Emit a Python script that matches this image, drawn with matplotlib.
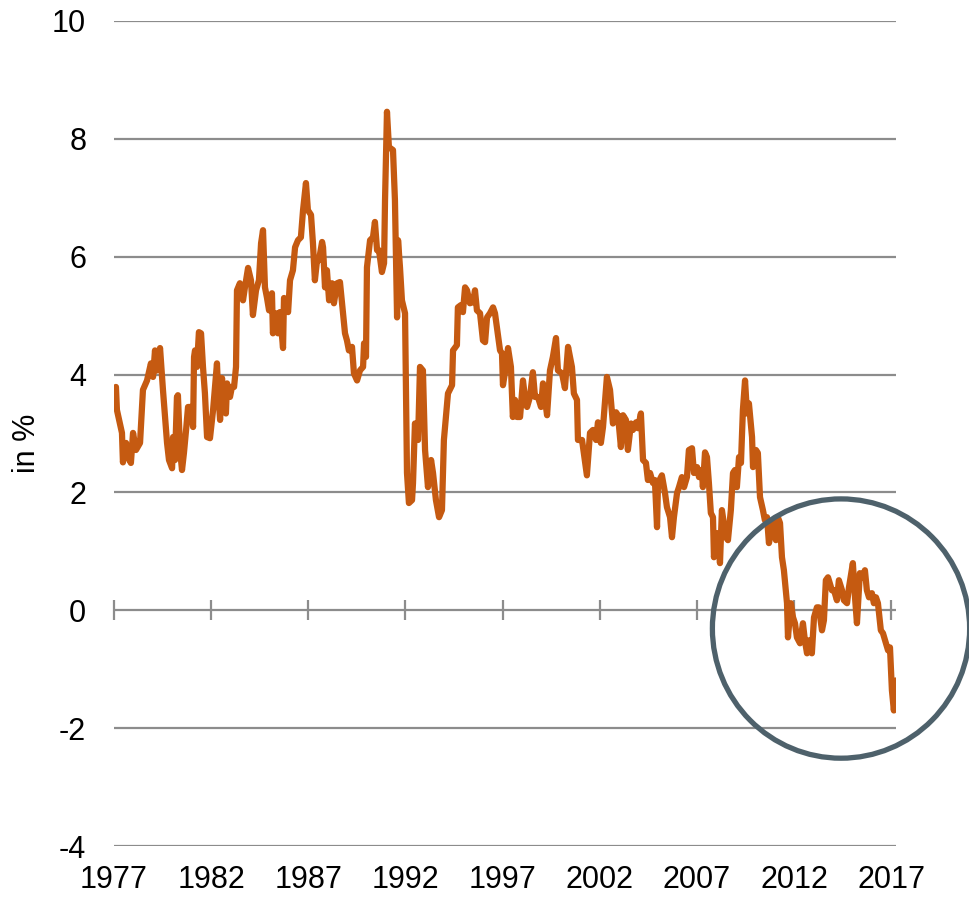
import matplotlib
matplotlib.use("Agg")
import matplotlib.pyplot as plt
from matplotlib.patches import Ellipse

plt.rcParams['font.family'] = ['Liberation Sans', 'DejaVu Sans']

years = [
    1977.10, 1977.15, 1977.41, 1977.46, 1977.62, 1977.72, 1977.87, 1977.98, 1978.13, 1978.34,
    1978.49, 1978.70, 1978.90, 1979.01, 1979.11, 1979.21, 1979.37, 1979.52, 1979.73, 1979.83,
    1979.99, 1980.04, 1980.14, 1980.24, 1980.29, 1980.40, 1980.50, 1980.60, 1980.71, 1980.81,
    1980.96, 1981.07, 1981.12, 1981.17, 1981.27, 1981.37, 1981.48, 1981.58, 1981.68, 1981.79,
    1981.94, 1982.10, 1982.30, 1982.35, 1982.46, 1982.56, 1982.61, 1982.76, 1982.82, 1982.97,
    1983.07, 1983.18, 1983.28, 1983.33, 1983.48, 1983.64, 1983.74, 1983.90, 1984.05, 1984.15,
    1984.31, 1984.46, 1984.57, 1984.67, 1984.77, 1984.87, 1984.98, 1985.13, 1985.18, 1985.34,
    1985.44, 1985.54, 1985.70, 1985.75, 1985.85, 1985.96, 1986.06, 1986.21, 1986.32, 1986.47,
    1986.62, 1986.73, 1986.88, 1986.98, 1987.14, 1987.24, 1987.34, 1987.45, 1987.55, 1987.71,
    1987.76, 1987.86, 1987.96, 1988.07, 1988.22, 1988.32, 1988.48, 1988.63, 1988.79, 1988.89,
    1988.99, 1989.09, 1989.25, 1989.35, 1989.51, 1989.66, 1989.82, 1989.87, 1989.97, 1990.02,
    1990.18, 1990.33, 1990.43, 1990.54, 1990.64, 1990.79, 1990.90, 1990.95, 1991.05, 1991.15,
    1991.36, 1991.46, 1991.57, 1991.62, 1991.72, 1991.82, 1991.98, 1992.08, 1992.18, 1992.34,
    1992.39, 1992.49, 1992.65, 1992.75, 1992.90, 1993.01, 1993.16, 1993.32, 1993.42, 1993.57,
    1993.73, 1993.88, 1993.98, 1994.19, 1994.40, 1994.45, 1994.65, 1994.70, 1994.86, 1994.96,
    1995.07, 1995.17, 1995.32, 1995.48, 1995.58, 1995.68, 1995.84, 1995.99, 1996.10, 1996.20,
    1996.35, 1996.51, 1996.61, 1996.71, 1996.87, 1996.97, 1997.02, 1997.17, 1997.28, 1997.43,
    1997.53, 1997.64, 1997.74, 1997.90, 1998.05, 1998.15, 1998.26, 1998.41, 1998.56, 1998.67,
    1998.82, 1998.98, 1999.08, 1999.29, 1999.44, 1999.59, 1999.75, 1999.85, 2000.06, 2000.21,
    2000.37, 2000.57, 2000.67, 2000.83, 2000.88, 2001.09, 2001.34, 2001.50, 2001.65, 2001.81,
    2001.91, 2002.06, 2002.17, 2002.37, 2002.53, 2002.68, 2002.84, 2002.94, 2003.09, 2003.20,
    2003.35, 2003.45, 2003.61, 2003.71, 2003.87, 2003.97, 2004.12, 2004.23, 2004.38, 2004.48,
    2004.59, 2004.74, 2004.84, 2004.95, 2005.00, 2005.20, 2005.36, 2005.46, 2005.62, 2005.72,
    2005.82, 2005.98, 2006.08, 2006.23, 2006.34, 2006.49, 2006.59, 2006.75, 2006.85, 2007.01,
    2007.11, 2007.26, 2007.31, 2007.42, 2007.52, 2007.62, 2007.72, 2007.83, 2007.88, 2007.98,
    2008.08, 2008.19, 2008.29, 2008.49, 2008.60, 2008.75, 2008.86, 2008.96, 2009.06, 2009.17,
    2009.27, 2009.37, 2009.48, 2009.58, 2009.68, 2009.84, 2009.89, 2010.04, 2010.14, 2010.25,
    2010.40, 2010.50, 2010.61, 2010.71, 2010.87, 2010.97, 2011.07, 2011.17, 2011.28, 2011.38,
    2011.48, 2011.64, 2011.69, 2011.84, 2011.95, 2012.05, 2012.15, 2012.31, 2012.46, 2012.56,
    2012.67, 2012.77, 2012.92, 2013.03, 2013.18, 2013.28, 2013.44, 2013.54, 2013.64, 2013.75,
    2013.95, 2014.06, 2014.21, 2014.31, 2014.47, 2014.57, 2014.73, 2014.83, 2015.03, 2015.14,
    2015.24, 2015.39, 2015.55, 2015.65, 2015.75, 2015.86, 2016.01, 2016.11, 2016.22, 2016.32,
    2016.47, 2016.58, 2016.73, 2016.84, 2016.94, 2017.04, 2017.14, 2017.25,
]

values = [
    3.79, 3.40, 3.01, 2.51, 2.84, 2.60, 2.50, 3.01, 2.72, 2.84,
    3.74, 3.90, 4.19, 3.96, 4.41, 4.07, 4.45, 3.74, 2.84, 2.55,
    2.41, 2.94, 2.55, 3.62, 3.65, 2.72, 2.38, 2.67, 3.06, 3.45,
    3.45, 3.11, 4.30, 4.41, 4.13, 4.72, 4.70, 4.13, 3.68, 2.94,
    2.92, 3.40, 4.19, 3.79, 3.23, 3.94, 3.62, 3.34, 3.85, 3.62,
    3.79, 3.79, 4.13, 5.43, 5.55, 5.26, 5.48, 5.81, 5.60, 5.01,
    5.43, 5.60, 6.23, 6.45, 5.48, 5.31, 5.09, 5.38, 4.70, 5.04,
    4.70, 5.06, 4.45, 5.30, 5.21, 5.06, 5.60, 5.77, 6.16, 6.28,
    6.33, 6.79, 7.25, 6.79, 6.71, 6.23, 5.60, 5.94, 5.94, 6.25,
    6.16, 5.48, 5.77, 5.26, 5.55, 5.21, 5.55, 5.57, 5.04, 4.70,
    4.58, 4.41, 4.47, 4.02, 3.90, 4.07, 4.13, 4.53, 4.30, 5.82,
    6.28, 6.33, 6.59, 6.11, 6.11, 5.74, 5.89, 6.96, 8.46, 7.86,
    7.81, 6.96, 4.97, 6.28, 5.82, 5.26, 5.04, 2.33, 1.82, 1.87,
    2.16, 3.17, 2.89, 4.13, 4.07, 2.72, 2.09, 2.55, 2.33, 1.87,
    1.58, 1.70, 2.89, 3.68, 3.82, 4.41, 4.50, 5.14, 5.18, 5.06,
    5.48, 5.43, 5.21, 5.23, 5.43, 5.09, 5.04, 4.58, 4.55, 4.97,
    5.04, 5.14, 5.04, 4.80, 4.41, 4.36, 3.82, 4.13, 4.45, 4.13,
    3.28, 3.57, 3.28, 3.28, 3.90, 3.62, 3.45, 3.62, 4.04, 3.62,
    3.62, 3.45, 3.85, 3.31, 4.07, 4.30, 4.62, 4.07, 4.02, 3.77,
    4.47, 4.13, 3.68, 3.57, 2.89, 2.89, 2.29, 3.01, 3.06, 2.89,
    3.19, 2.84, 3.11, 3.96, 3.74, 3.17, 3.36, 3.31, 2.77, 3.31,
    3.23, 2.72, 3.17, 3.06, 3.19, 3.09, 3.34, 2.55, 2.50, 2.21,
    2.33, 2.16, 2.21, 1.41, 2.16, 2.29, 1.99, 1.75, 1.58, 1.24,
    1.58, 1.99, 2.09, 2.26, 2.09, 2.26, 2.72, 2.75, 2.33, 2.43,
    2.26, 2.38, 2.09, 2.68, 2.60, 2.16, 1.65, 1.58, 0.90, 1.24,
    1.31, 0.80, 1.70, 1.24, 1.19, 1.70, 2.33, 2.38, 2.09, 2.60,
    2.50, 3.40, 3.90, 3.34, 3.51, 2.94, 2.43, 2.72, 2.67, 1.92,
    1.70, 1.53, 1.58, 1.14, 1.41, 1.53, 1.19, 1.58, 1.48, 0.90,
    0.68, 0.12, -0.46, 0.12, -0.12, -0.22, -0.46, -0.56, -0.22, -0.51,
    -0.73, -0.51, -0.73, -0.12, 0.05, 0.05, -0.34, -0.17, 0.51, 0.56,
    0.34, 0.34, 0.17, 0.51, 0.34, 0.17, 0.12, 0.39, 0.80, 0.22,
    -0.22, 0.63, 0.56, 0.68, 0.34, 0.22, 0.29, 0.12, 0.22, 0.12,
    -0.34, -0.39, -0.56, -0.68, -0.63, -1.36, -1.70, -1.19,
]

x_ticks = [1977, 1982, 1987, 1992, 1997, 2002, 2007, 2012, 2017]
y_ticks = [-4, -2, 0, 2, 4, 6, 8, 10]
y_label = "in %"

line_color = "#C55A11"
grid_color = "#8C8C8C"
circle_color = "#4E616B"

fig = plt.figure(figsize=(9.69, 9.0), dpi=100)
ax = fig.add_axes([114 / 969, 1 - 846 / 900, (896 - 114) / 969, (846 - 21) / 900])

ax.set_xlim(1977, 2017.25)
ax.set_ylim(-4, 10)

for yv in y_ticks:
    ax.axhline(yv, color=grid_color, linewidth=1.6, zorder=1)

# tick marks across the zero line
ax.plot(x_ticks, [0] * len(x_ticks), linestyle='none', marker='|',
        markersize=14, markeredgewidth=1.6, color=grid_color, zorder=1,
        clip_on=False)

ax.plot(years, values, color=line_color, linewidth=4.5, solid_joinstyle='round',
        solid_capstyle='round', zorder=3)

# highlight circle
ell = Ellipse((2014.42, -0.31), width=2 * 6.62, height=2 * 2.2, fill=False,
              edgecolor=circle_color, linewidth=3.8, zorder=4, clip_on=False)
ax.add_patch(ell)

ax.set_xticks(x_ticks)
ax.set_xticklabels([str(t) for t in x_ticks])
ax.set_yticks(y_ticks)
ax.set_yticklabels([str(t) for t in y_ticks])
ax.tick_params(axis='both', length=0, labelsize=22, colors='black')
ax.tick_params(axis='x', pad=14)
ax.tick_params(axis='y', pad=20)

for s in ax.spines.values():
    s.set_visible(False)

fig.text(27 / 969, 1 - 443 / 900, y_label, rotation=90, fontsize=22,
         ha='center', va='center')

fig.savefig("out.png", dpi=100)
